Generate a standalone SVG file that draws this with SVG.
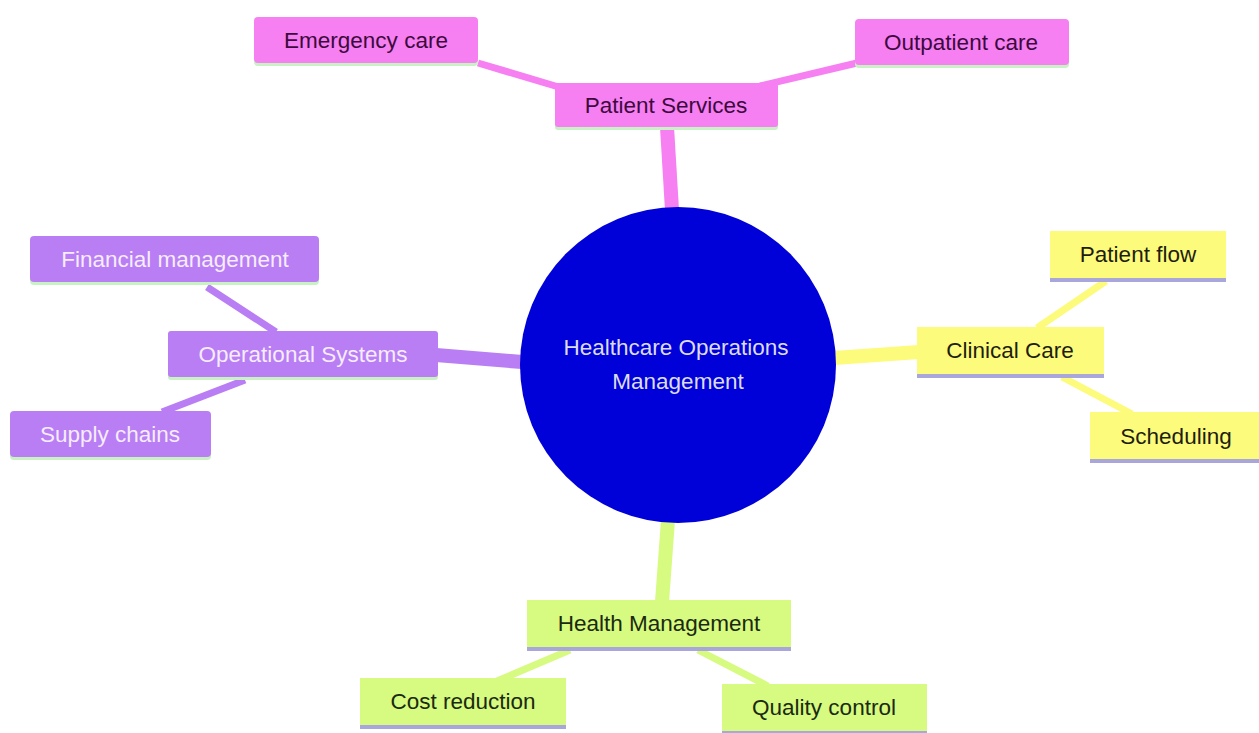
<svg xmlns="http://www.w3.org/2000/svg" width="1259" height="733" viewBox="0 0 1259 733">
<style>
text{font-family:"Liberation Sans",Arial,sans-serif;font-size:22.5px;text-anchor:middle;dominant-baseline:central}
.pink rect.b{fill:#f67ff2}.pink text{fill:#3d0a3d}
.purp rect.b{fill:#b97ef3}.purp text{fill:#f5ecff}
.yel rect.b{fill:#fdfb7b}.yel text{fill:#1e1e10}
.lime rect.b{fill:#d7fa80}.lime text{fill:#1a2a10}
.gb{fill:#c8f2c4}.lb{fill:#a9a6dc}
</style>
<rect width="1259" height="733" fill="#ffffff"/>
<g id="connectors" stroke-linecap="butt" fill="none">
<line x1="667" y1="127" x2="672" y2="210" stroke="#f67ff2" stroke-width="14"/>
<line x1="478" y1="63" x2="562" y2="88" stroke="#f67ff2" stroke-width="7"/>
<line x1="760" y1="86" x2="857" y2="63" stroke="#f67ff2" stroke-width="7"/>
<line x1="436" y1="355" x2="522" y2="362" stroke="#b97ef3" stroke-width="14"/>
<line x1="207" y1="287" x2="276" y2="332" stroke="#b97ef3" stroke-width="7"/>
<line x1="245" y1="380" x2="162" y2="412" stroke="#b97ef3" stroke-width="7"/>
<line x1="834" y1="358" x2="919" y2="352" stroke="#fdfb7b" stroke-width="14"/>
<line x1="1037" y1="328" x2="1106" y2="281" stroke="#fdfb7b" stroke-width="7"/>
<line x1="1062" y1="377" x2="1132" y2="414" stroke="#fdfb7b" stroke-width="7"/>
<line x1="668" y1="520" x2="662" y2="602" stroke="#d7fa80" stroke-width="14"/>
<line x1="570" y1="650" x2="497" y2="681" stroke="#d7fa80" stroke-width="7"/>
<line x1="698" y1="650" x2="768" y2="686" stroke="#d7fa80" stroke-width="7"/>
</g>
<g id="center">
<circle cx="678" cy="365" r="158" fill="#0000d8"/>
<text x="676" y="347" fill="#dcdcf0">Healthcare Operations</text>
<text x="678" y="381" fill="#dcdcf0">Management</text>
</g>
<g id="patient-services" class="pink">
<rect class="gb" x="555" y="86" width="223" height="44" rx="3"/>
<rect class="b" x="555" y="83" width="223" height="44" rx="3"/>
<text x="666" y="105">Patient Services</text>
</g>
<g id="emergency-care" class="pink">
<rect class="gb" x="254" y="20" width="224" height="46" rx="4"/>
<rect class="b" x="254" y="17" width="224" height="46" rx="4"/>
<text x="366" y="40">Emergency care</text>
</g>
<g id="outpatient-care" class="pink">
<rect class="gb" x="855" y="22" width="214" height="46" rx="4"/>
<rect class="b" x="855" y="19" width="214" height="46" rx="4"/>
<text x="961" y="42">Outpatient care</text>
</g>
<g id="operational-systems" class="purp">
<rect class="gb" x="168" y="334" width="270" height="46" rx="3"/>
<rect class="b" x="168" y="331" width="270" height="46" rx="3"/>
<text x="303" y="354">Operational Systems</text>
</g>
<g id="financial-management" class="purp">
<rect class="gb" x="30" y="239" width="289" height="46" rx="4"/>
<rect class="b" x="30" y="236" width="289" height="46" rx="4"/>
<text x="175" y="259">Financial management</text>
</g>
<g id="supply-chains" class="purp">
<rect class="gb" x="10" y="414" width="201" height="46" rx="4"/>
<rect class="b" x="10" y="411" width="201" height="46" rx="4"/>
<text x="110" y="434">Supply chains</text>
</g>
<g id="clinical-care" class="yel">
<rect class="lb" x="917" y="330" width="187" height="48"/>
<rect class="b" x="917" y="327" width="187" height="47"/>
<text x="1010" y="350">Clinical Care</text>
</g>
<g id="patient-flow" class="yel">
<rect class="lb" x="1050" y="234" width="176" height="48"/>
<rect class="b" x="1050" y="231" width="176" height="47"/>
<text x="1138" y="254">Patient flow</text>
</g>
<g id="scheduling" class="yel">
<rect class="lb" x="1090" y="415" width="169" height="48"/>
<rect class="b" x="1090" y="412" width="169" height="47"/>
<text x="1176" y="436">Scheduling</text>
</g>
<g id="health-management" class="lime">
<rect class="lb" x="527" y="603" width="264" height="48"/>
<rect class="b" x="527" y="600" width="264" height="47"/>
<text x="659" y="623">Health Management</text>
</g>
<g id="cost-reduction" class="lime">
<rect class="lb" x="360" y="681" width="206" height="48"/>
<rect class="b" x="360" y="678" width="206" height="47"/>
<text x="463" y="701">Cost reduction</text>
</g>
<g id="quality-control" class="lime">
<rect class="lb" x="722" y="687" width="205" height="48"/>
<rect class="b" x="722" y="684" width="205" height="47"/>
<text x="824" y="707">Quality control</text>
</g>
</svg>
